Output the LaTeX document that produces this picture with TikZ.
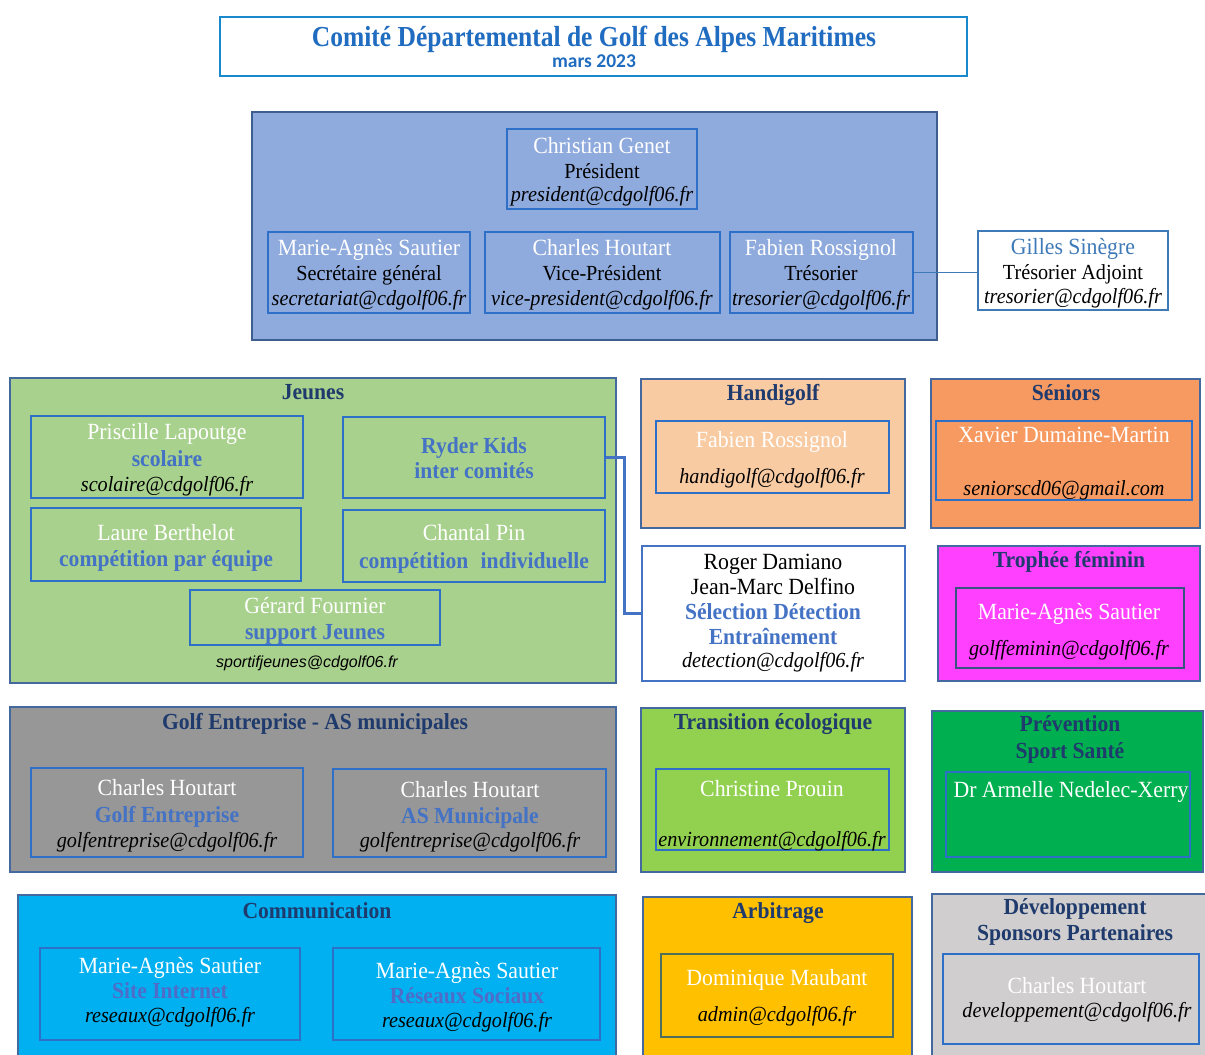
\documentclass[tikz,border=0pt]{standalone}
\usepackage{fontspec}
\newfontfamily\mainf{Liberation Serif}[FakeStretch=0.94]
\newfontfamily\titf{Liberation Serif}[FakeStretch=0.88]
\newfontfamily\calf{Carlito}
\newfontfamily\arif{Liberation Sans}
\definecolor{obord}{HTML}{44699E}
\definecolor{ibord}{HTML}{2E6FC7}
\definecolor{navy}{HTML}{1F3A6C}
\definecolor{subblue}{HTML}{4472C4}
\definecolor{subblue2}{HTML}{4F6CC8}
\definecolor{titblue}{HTML}{1F6CC0}
\definecolor{gilblue}{HTML}{3F7AB8}
\definecolor{topfill}{HTML}{8FAADC}
\definecolor{jfill}{HTML}{A9D18E}
\definecolor{hfill}{HTML}{F8CBA3}
\definecolor{sfill}{HTML}{F79A62}
\definecolor{tfill}{HTML}{FF40FF}
\definecolor{gfill}{HTML}{979797}
\definecolor{efill}{HTML}{92D050}
\definecolor{pfill}{HTML}{00B050}
\definecolor{cfill}{HTML}{00B0F0}
\definecolor{afill}{HTML}{FFC000}
\definecolor{dfill}{HTML}{D0CECE}
\definecolor{abord}{HTML}{4F6F5A}
\newcommand\boxat[6]{\node[#1, minimum width={#4-#2}, minimum height={#5-#3}] (#6) at ({(#2+#4)/2},{(#3+#5)/2}) {};}
\newcommand\txt[5]{\node[#1] (#2) at (#3,{#4+7}) {#5};}
\tikzset{
  outer/.style={draw=obord, line width=2.2pt, rectangle, inner sep=0pt},
  inner/.style={draw=ibord, line width=1.6pt, rectangle, inner sep=0pt},
  tl/.style={anchor=base, inner sep=0pt, outer sep=0pt},
  nm/.style={tl, font=\mainf\fontsize{23.2}{26}\selectfont, text=white},
  rl/.style={tl, font=\mainf\fontsize{21.5}{24}\selectfont, text=black},
  bk/.style={tl, font=\mainf\fontsize{23.2}{26}\selectfont, text=black},
  em/.style={tl, font=\mainf\itshape\fontsize{21.5}{24}\selectfont, text=black},
  sb/.style={tl, font=\mainf\bfseries\fontsize{23}{26}\selectfont, text=subblue},
  sbb/.style={tl, font=\mainf\bfseries\fontsize{23}{26}\selectfont, text=subblue2},
  hd/.style={tl, font=\mainf\bfseries\fontsize{23}{26}\selectfont, text=navy},
  conn/.style={draw=subblue, line width=3pt},
  thin/.style={draw=gilblue, line width=1.2pt}
}
\begin{document}
\begin{tikzpicture}[x=1pt,y=-1pt]
\useasboundingbox (0,0) rectangle (1205,1055);
\clip (0,0) rectangle (1205,1055);
\fill[white] (0,0) rectangle (1205,1055);
% title
\boxat{draw=titblue!80!cyan, line width=2pt}{220}{17}{967}{76}{titlebox}
\txt{tl, font=\titf\bfseries\fontsize{29}{32}\selectfont, text=titblue}{title}{594}{39}{Comité Départemental de Golf des Alpes Maritimes}
\txt{tl, font=\calf\bfseries\fontsize{19.5}{22}\selectfont, text=titblue}{date}{594}{60}{mars 2023}
% bureau
\boxat{outer, fill=topfill, draw=obord!90!black}{252}{112}{937}{340}{bureau}
\boxat{inner}{507}{129}{697}{209}{pres}
\txt{nm}{presn}{602}{146}{Christian Genet}
\txt{rl}{presr}{602}{171}{Président}
\txt{em}{prese}{602}{194}{president@cdgolf06.fr}
\boxat{inner}{268}{232}{470}{313}{sec}
\txt{nm}{secn}{369}{248}{Marie-Agnès Sautier}
\txt{rl}{secr}{369}{273}{Secrétaire général}
\txt{em}{sece}{369}{298}{secretariat@cdgolf06.fr}
\boxat{inner}{485}{232}{720}{313}{vp}
\txt{nm}{vpn}{602}{248}{Charles Houtart}
\txt{rl}{vpr}{602}{273}{Vice-Président}
\txt{em}{vpe}{602}{298}{vice-president@cdgolf06.fr}
\boxat{inner}{730}{232}{913}{313}{tres}
\txt{nm}{tresn}{821}{248}{Fabien Rossignol}
\txt{rl}{tresr}{821}{273}{Trésorier}
\txt{em}{trese}{821}{298}{tresorier@cdgolf06.fr}
\boxat{draw=gilblue, line width=1.6pt, rectangle, inner sep=0pt}{978}{231}{1168}{310}{gil}
\txt{nm, text=gilblue}{giln}{1073}{247}{Gilles Sinègre}
\txt{rl}{gilr}{1073}{272}{Trésorier Adjoint}
\txt{em}{gile}{1073}{296}{tresorier@cdgolf06.fr}
\draw[thin] (tres.east) -- (tres.east -| gil.west);
% Jeunes
\boxat{outer, fill=jfill}{10}{378}{616}{683}{jeunes}
\txt{hd}{jeunesh}{313}{392}{Jeunes}
\boxat{inner}{31}{416}{303}{498}{pris}
\txt{nm}{prisn}{167}{432}{Priscille Lapoutge}
\txt{sb}{priss}{167}{459}{scolaire}
\txt{em}{prise}{167}{484}{scolaire@cdgolf06.fr}
\boxat{inner}{343}{417}{605}{498}{ryder}
\txt{sb}{ryder1}{474}{446}{Ryder Kids}
\txt{sb}{ryder2}{474}{471}{inter comités}
\boxat{inner}{31}{508}{301}{581}{laure}
\txt{nm}{lauren}{166}{533}{Laure Berthelot}
\txt{sb}{laures}{166}{559}{compétition par équipe}
\boxat{inner}{343}{510}{605}{582}{chantal}
\txt{nm}{chantaln}{474}{533}{Chantal Pin}
\txt{sb}{chantals}{474}{561}{compétition\hspace{0.3em} individuelle}
\boxat{inner}{190}{590}{440}{645}{gerard}
\txt{nm}{gerardn}{315}{606}{Gérard Fournier}
\txt{sb}{gerards}{315}{632}{support Jeunes}
\node[tl, font=\arif\itshape\fontsize{16}{18}\selectfont, text=black] (sportif) at (307,667) {sportifjeunes@cdgolf06.fr};
% Handigolf
\boxat{outer, fill=hfill}{641}{379}{905}{528}{handi}
\txt{hd}{handih}{773}{393}{Handigolf}
\boxat{inner}{656}{421}{889}{493}{handin}
\txt{nm}{handinm}{772}{440}{Fabien Rossignol}
\txt{em}{handie}{772}{476}{handigolf@cdgolf06.fr}
% Seniors
\boxat{outer, fill=sfill}{931}{379}{1200}{528}{sen}
\txt{hd}{senh}{1066}{393}{Séniors}
\boxat{inner}{936}{421}{1192}{500}{senin}
\txt{nm}{senn}{1064}{435}{Xavier Dumaine-Martin}
\txt{em}{sene}{1064}{488}{seniorscd06@gmail.com}
% Roger
\boxat{draw=subblue, line width=2pt, fill=white, rectangle, inner sep=0pt}{642}{546}{905}{681}{roger}
\txt{bk}{roger1}{773}{562}{Roger Damiano}
\txt{bk}{roger2}{773}{587}{Jean-Marc Delfino}
\txt{sb}{roger3}{773}{612}{Sélection Détection}
\txt{sb}{roger4}{773}{637}{Entraînement}
\txt{em}{rogere}{773}{660}{detection@cdgolf06.fr}
\draw[conn] (ryder.east) -- ++(19,0) |- (roger.west);
% Trophee
\boxat{outer, fill=tfill}{938}{546}{1200}{681}{troph}
\txt{hd}{trophh}{1069}{560}{Trophée féminin}
\boxat{inner, draw=obord!80!black}{956}{588}{1184}{668}{trophin}
\txt{nm}{trophn}{1069}{612}{Marie-Agnès Sautier}
\txt{em}{trophe}{1069}{648}{golffeminin@cdgolf06.fr}
% Golf entreprise
\boxat{outer, fill=gfill}{10}{707}{616}{872}{ge}
\txt{hd}{geh}{315}{722}{Golf Entreprise - AS municipales}
\boxat{inner}{31}{768}{303}{857}{gel}
\txt{nm}{geln}{167}{788}{Charles Houtart}
\txt{sb}{gels}{167}{815}{Golf Entreprise}
\txt{em}{gele}{167}{840}{golfentreprise@cdgolf06.fr}
\boxat{inner}{333}{769}{606}{857}{ger}
\txt{nm}{gern}{470}{790}{Charles Houtart}
\txt{sb}{gers}{470}{816}{AS Municipale}
\txt{em}{gere}{470}{840}{golfentreprise@cdgolf06.fr}
% Transition
\boxat{outer, fill=efill}{641}{708}{905}{872}{env}
\txt{hd}{envh}{773}{722}{Transition écologique}
\boxat{inner}{656}{769}{889}{850}{envin}
\txt{nm}{envn}{772}{789}{Christine Prouin}
\txt{em}{enve}{772}{839}{environnement@cdgolf06.fr}
% Prevention
\boxat{outer, fill=pfill}{932}{711}{1203}{872}{prev}
\txt{hd}{prevh1}{1070}{724}{Prévention}
\txt{hd}{prevh2}{1070}{751}{Sport Santé}
\boxat{inner}{946}{772}{1190}{857}{previn}
\txt{nm}{prevn}{1071}{790}{Dr Armelle Nedelec-Xerry}
% Communication
\boxat{outer, fill=cfill}{18}{895}{616}{1062}{com}
\txt{hd}{comh}{317}{911}{Communication}
\boxat{inner}{40}{948}{300}{1040}{coml}
\txt{nm}{comln}{170}{966}{Marie-Agnès Sautier}
\txt{sbb}{comls}{170}{991}{Site Internet}
\txt{em}{comle}{170}{1015}{reseaux@cdgolf06.fr}
\boxat{inner}{333}{948}{600}{1040}{comr}
\txt{nm}{comrn}{467}{971}{Marie-Agnès Sautier}
\txt{sbb}{comrs}{467}{996}{Réseaux Sociaux}
\txt{em}{comre}{467}{1020}{reseaux@cdgolf06.fr}
% Arbitrage
\boxat{outer, fill=afill}{643}{897}{912}{1062}{arb}
\txt{hd}{arbh}{778}{911}{Arbitrage}
\boxat{inner, draw=abord}{661}{954}{893}{1037}{arbin}
\txt{nm}{arbn}{777}{978}{Dominique Maubant}
\txt{em}{arbe}{777}{1014}{admin@cdgolf06.fr}
% Developpement
\boxat{outer, fill=dfill}{932}{894}{1212}{1062}{dev}
\txt{hd}{devh1}{1075}{907}{Développement}
\txt{hd}{devh2}{1075}{933}{Sponsors Partenaires}
\boxat{inner}{943}{954}{1199}{1044}{devin}
\txt{nm}{devn}{1077}{986}{Charles Houtart}
\txt{em}{deve}{1077}{1010}{developpement@cdgolf06.fr}
\end{tikzpicture}
\end{document}
